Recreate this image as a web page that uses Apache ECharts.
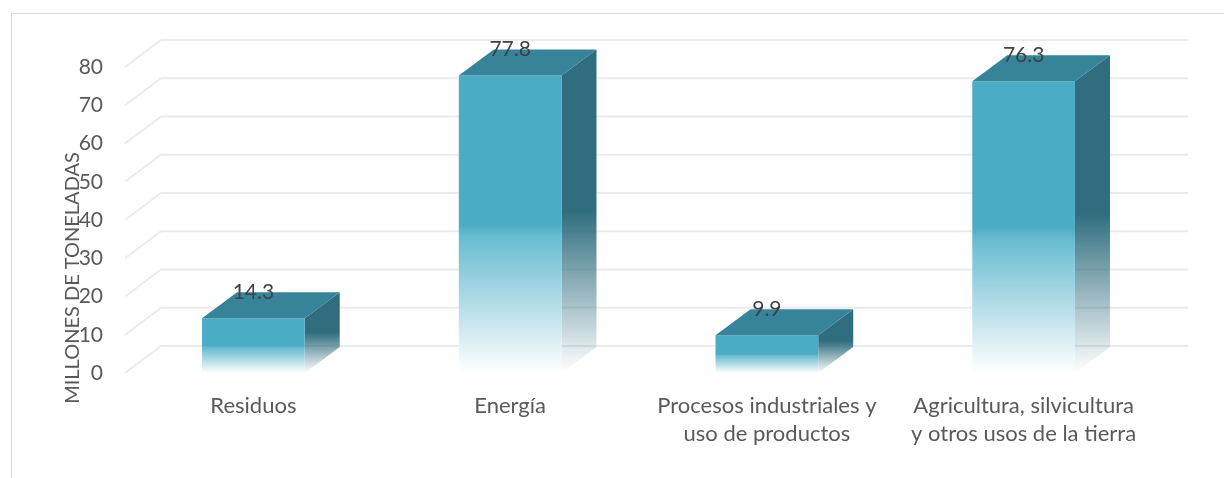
<!DOCTYPE html>
<html><head><meta charset="utf-8">
<script src="https://cdn.jsdelivr.net/npm/echarts@6/dist/echarts.min.js"></script>
<style>html,body{margin:0;padding:0;background:#fff}#c{width:1224px;height:478px}</style>
</head><body><div id="c"></div>
<script>
const categories = ['Residuos', 'Energía', 'Procesos industriales y\nuso de productos', 'Agricultura, silvicultura\ny otros usos de la tierra'];
const values = [14.3, 77.8, 9.9, 76.3];
const yTicks = [0, 10, 20, 30, 40, 50, 60, 70, 80];
const axisTitle = 'MILLONES DE TONELADAS';

const FONT = 'Lato, "Open Sans", sans-serif';
const WALL = [36, -27];
const BAR = [35, -26];

const chart = echarts.init(document.getElementById('c'), null, {renderer: 'canvas'});

const frontGrad = new echarts.graphic.LinearGradient(0, 0, 0, 1, [
  {offset: 0, color: '#4BACC6'},
  {offset: 0.5, color: '#4BACC6'},
  {offset: 0.54, color: '#68BBD0'},
  {offset: 1, color: 'rgba(255,255,255,1)'}
]);
const sideGrad = new echarts.graphic.LinearGradient(0, 0, 0, 1, [
  {offset: 0, color: '#306E7F'},
  {offset: 0.5, color: '#306E7F'},
  {offset: 1, color: 'rgba(48,110,127,0)'}
]);

const option = {
  animation: false,
  grid: {left: 125, right: 72, top: 67, bottom: 105},
  xAxis: {
    type: 'category', data: categories,
    axisLine: {show: false}, axisTick: {show: false},
    axisLabel: {color: '#595959', fontSize: 22, fontFamily: FONT, margin: 19, lineHeight: 28, interval: 0}
  },
  yAxis: {
    type: 'value', min: 0, max: 80, interval: 10,
    axisLine: {show: false}, axisTick: {show: false}, splitLine: {show: false},
    axisLabel: {color: '#595959', fontSize: 21, fontFamily: FONT, margin: 22}
  },
  graphic: [
    {type: 'rect', shape: {x: 11.5, y: 13.5, width: 1400, height: 600}, style: {fill: 'none', stroke: '#D9D9D9', lineWidth: 1}, silent: true},
    {type: 'text', x: 73, y: 278, rotation: Math.PI / 2,
     style: {text: axisTitle, x: 0, y: 0, align: 'center', verticalAlign: 'middle', fill: '#595959', font: '20px ' + FONT}}
  ],
  series: [
    {
      type: 'custom', z: 1, silent: true,
      data: yTicks.map(v => [0, v]),
      encode: {x: 0, y: 1},
      renderItem(params, api) {
        const cs = params.coordSys;
        const y = api.coord([0, api.value(1)])[1];
        const x0 = cs.x, bx = cs.x + WALL[0], by = y + WALL[1];
        const st = {stroke: '#EBEBEB', lineWidth: 2, fill: 'none'};
        return {type: 'group', children: [
          {type: 'line', shape: {x1: x0, y1: y, x2: bx, y2: by}, style: st},
          {type: 'line', shape: {x1: bx, y1: by, x2: cs.x + cs.width + WALL[0], y2: by}, style: st}
        ]};
      }
    },
    {
      type: 'custom', z: 2,
      data: values.map((v, i) => [i, v]),
      encode: {x: 0, y: 1},
      renderItem(params, api) {
        const i = api.value(0), v = api.value(1);
        const top = api.coord([i, v]), base = api.coord([i, 0]);
        const w = api.size([1, 0])[0] * 0.4;
        const x0 = top[0] - w / 2, x1 = top[0] + w / 2, yT = top[1], yB = base[1];
        const dx = BAR[0], dy = BAR[1];
        return {type: 'group', children: [
          {type: 'polygon', shape: {points: [[x1, yT], [x1 + dx, yT + dy], [x1 + dx, yB + dy], [x1, yB]]}, style: {fill: sideGrad}},
          {type: 'polygon', shape: {points: [[x0, yT], [x1, yT], [x1, yB], [x0, yB]]}, style: {fill: frontGrad}},
          {type: 'polygon', shape: {points: [[x0, yT], [x0 + dx, yT + dy], [x1 + dx, yT + dy], [x1, yT]]}, style: {fill: '#37849A'}},
          {type: 'text', style: {text: v.toFixed(1), x: top[0], y: yT + dy, align: 'center', verticalAlign: 'middle', fill: '#404040', font: '21px ' + FONT}}
        ]};
      }
    }
  ]
};
chart.setOption(option);
</script>
</body></html>
